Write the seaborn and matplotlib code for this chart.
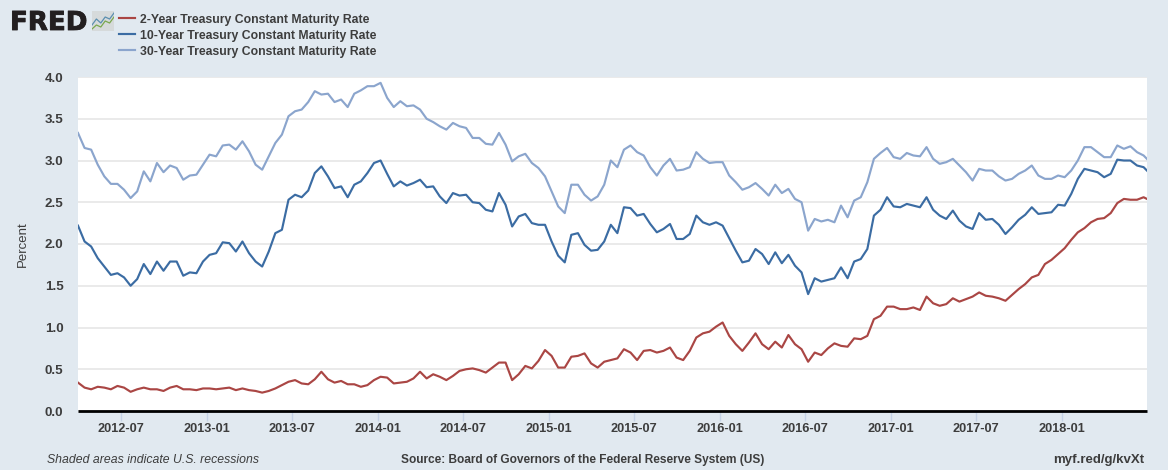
"""FRED style chart of treasury constant maturity rates"""

import matplotlib
matplotlib.use('Agg')
import matplotlib.pyplot as plt
import matplotlib.dates as mdates
import matplotlib.patheffects as pe
import seaborn as sns
import pandas as pd
import numpy as np


# values, one point about every two weeks
RATE_2Y = [0.34, 0.28, 0.26, 0.29, 0.28, 0.26, 0.30, 0.28, 0.23, 0.26, 0.28, 0.26, 0.26, 0.24, 0.28, 0.30,
           0.26, 0.26, 0.25, 0.27, 0.27, 0.26, 0.27, 0.28, 0.25, 0.27, 0.25, 0.24, 0.22, 0.24, 0.27, 0.31,
           0.35, 0.37, 0.33, 0.32, 0.38, 0.47, 0.38, 0.34, 0.36, 0.32, 0.32, 0.29, 0.31, 0.37, 0.41, 0.40,
           0.33, 0.34, 0.35, 0.39, 0.47, 0.39, 0.44, 0.41, 0.37, 0.42, 0.48, 0.50, 0.51, 0.49, 0.46, 0.52,
           0.58, 0.58, 0.37, 0.44, 0.54, 0.51, 0.60, 0.73, 0.66, 0.52, 0.52, 0.65, 0.66, 0.69, 0.57, 0.52,
           0.59, 0.61, 0.63, 0.74, 0.70, 0.61, 0.72, 0.73, 0.70, 0.72, 0.76, 0.64, 0.61, 0.72, 0.88, 0.93,
           0.95, 1.01, 1.06, 0.90, 0.80, 0.72, 0.82, 0.93, 0.80, 0.74, 0.83, 0.76, 0.91, 0.80, 0.74, 0.59,
           0.70, 0.67, 0.75, 0.81, 0.78, 0.77, 0.87, 0.86, 0.90, 1.10, 1.14, 1.25, 1.25, 1.22, 1.22, 1.24,
           1.21, 1.37, 1.29, 1.26, 1.28, 1.35, 1.31, 1.34, 1.37, 1.42, 1.38, 1.37, 1.35, 1.32, 1.39, 1.46,
           1.52, 1.60, 1.63, 1.76, 1.81, 1.88, 1.95, 2.05, 2.14, 2.19, 2.26, 2.30, 2.31, 2.37, 2.49, 2.54,
           2.53, 2.53, 2.56, 2.52]
RATE_10Y = [2.22, 2.03, 1.97, 1.83, 1.73, 1.63, 1.65, 1.60, 1.50, 1.58, 1.76, 1.64, 1.79, 1.68, 1.79, 1.79,
            1.62, 1.66, 1.65, 1.79, 1.87, 1.89, 2.02, 2.01, 1.91, 2.03, 1.89, 1.79, 1.73, 1.91, 2.13, 2.17,
            2.53, 2.59, 2.56, 2.64, 2.85, 2.93, 2.81, 2.67, 2.69, 2.56, 2.71, 2.75, 2.85, 2.97, 3.00, 2.84,
            2.69, 2.75, 2.70, 2.73, 2.77, 2.68, 2.69, 2.57, 2.49, 2.61, 2.58, 2.59, 2.50, 2.49, 2.41, 2.39,
            2.61, 2.47, 2.21, 2.33, 2.36, 2.25, 2.23, 2.23, 2.03, 1.86, 1.78, 2.11, 2.13, 1.99, 1.92, 1.93,
            2.03, 2.23, 2.13, 2.44, 2.43, 2.34, 2.36, 2.24, 2.14, 2.18, 2.24, 2.06, 2.06, 2.12, 2.34, 2.26,
            2.23, 2.26, 2.22, 2.07, 1.92, 1.78, 1.80, 1.94, 1.88, 1.76, 1.90, 1.77, 1.87, 1.74, 1.66, 1.40,
            1.59, 1.55, 1.57, 1.59, 1.72, 1.59, 1.79, 1.82, 1.94, 2.34, 2.41, 2.56, 2.45, 2.44, 2.48, 2.46,
            2.44, 2.56, 2.41, 2.34, 2.30, 2.40, 2.28, 2.21, 2.18, 2.37, 2.29, 2.30, 2.23, 2.12, 2.20, 2.29,
            2.35, 2.44, 2.36, 2.37, 2.38, 2.47, 2.46, 2.60, 2.78, 2.90, 2.88, 2.86, 2.80, 2.84, 3.01, 3.00,
            3.00, 2.94, 2.92, 2.84]
RATE_30Y = [3.33, 3.15, 3.13, 2.95, 2.81, 2.72, 2.72, 2.65, 2.55, 2.63, 2.87, 2.75, 2.97, 2.86, 2.94, 2.91,
            2.77, 2.82, 2.83, 2.95, 3.07, 3.05, 3.18, 3.19, 3.13, 3.23, 3.11, 2.95, 2.89, 3.05, 3.21, 3.31,
            3.53, 3.59, 3.61, 3.70, 3.83, 3.79, 3.80, 3.70, 3.73, 3.64, 3.80, 3.84, 3.89, 3.89, 3.93, 3.75,
            3.64, 3.71, 3.65, 3.66, 3.61, 3.50, 3.46, 3.41, 3.37, 3.45, 3.41, 3.39, 3.27, 3.27, 3.20, 3.19,
            3.33, 3.19, 2.99, 3.05, 3.08, 2.97, 2.91, 2.81, 2.63, 2.45, 2.37, 2.71, 2.71, 2.59, 2.52, 2.57,
            2.71, 3.00, 2.92, 3.13, 3.18, 3.10, 3.06, 2.92, 2.82, 2.94, 3.02, 2.88, 2.89, 2.92, 3.10, 3.02,
            2.97, 2.98, 2.98, 2.82, 2.74, 2.65, 2.68, 2.73, 2.66, 2.58, 2.71, 2.61, 2.66, 2.54, 2.50, 2.16,
            2.30, 2.27, 2.29, 2.26, 2.46, 2.32, 2.52, 2.56, 2.74, 3.02, 3.09, 3.15, 3.04, 3.02, 3.09, 3.06,
            3.05, 3.16, 3.02, 2.96, 2.98, 3.02, 2.94, 2.86, 2.76, 2.90, 2.88, 2.88, 2.81, 2.76, 2.78, 2.84,
            2.88, 2.94, 2.82, 2.78, 2.78, 2.82, 2.80, 2.88, 3.00, 3.16, 3.16, 3.10, 3.04, 3.04, 3.18, 3.14,
            3.17, 3.10, 3.06, 2.98]

SERIES_NAMES = ['2-Year Treasury Constant Maturity Rate',
                '10-Year Treasury Constant Maturity Rate',
                '30-Year Treasury Constant Maturity Rate']
SERIES_COLORS = ['#aa4644', '#3b6ca3', '#8ba5cd']
X_TICKS = ['2012-07', '2013-01', '2013-07', '2014-01', '2014-07', '2015-01', '2015-07',
           '2016-01', '2016-07', '2017-01', '2017-07', '2018-01']
Y_TICKS = [0.0, 0.5, 1.0, 1.5, 2.0, 2.5, 3.0, 3.5, 4.0]

BG = '#e1e9f0'
TEXT = '#3d3d3d'
W, H = 1168, 470

plt.rcParams['font.family'] = ['Liberation Sans', 'DejaVu Sans']

# long format, sns wants it that way
dates = pd.date_range('2012-04-01', periods=len(RATE_2Y), freq='337h')
df = pd.DataFrame({
    'date': np.tile(dates, 3),
    'rate': RATE_2Y + RATE_10Y + RATE_30Y,
    'series': np.repeat(SERIES_NAMES, len(RATE_2Y)),
})

fig = plt.figure(figsize=(W / 100, H / 100), dpi=100, facecolor=BG)
ax = fig.add_axes([78 / W, 1 - 411 / H, (1147 - 78) / W, (411 - 77) / H])
ax.set_facecolor('white')

sns.lineplot(data=df, x='date', y='rate', hue='series', hue_order=SERIES_NAMES,
             palette=SERIES_COLORS, linewidth=1.55, errorbar=None, ax=ax, zorder=3)

ax.set_xlim(pd.Timestamp('2012-04-01'), pd.Timestamp('2018-07-01'))
ax.set_ylim(0, 4)
ax.set_xlabel('')
ax.set_ylabel('')
fig.text(22.5 / W, 1 - 244 / H, 'Percent', fontsize=9.5, color=TEXT, rotation=90, ha='center', va='center')

# grid and axes
ax.set_yticks(Y_TICKS)
ax.set_yticklabels(['%.1f' % v for v in Y_TICKS], fontsize=9.6, fontweight='bold', color=TEXT)
ax.set_xticks([pd.Timestamp(t + '-01') for t in X_TICKS])
ax.xaxis.set_major_formatter(mdates.DateFormatter('%Y-%m'))
ax.tick_params(axis='y', length=0, pad=10.5)
ax.tick_params(axis='x', length=7, width=1, color='#c5d3e6', pad=2, labelcolor=TEXT)
for lab in ax.get_xticklabels():
    lab.set_fontweight('bold')
    lab.set_fontsize(9.2)
ax.grid(axis='y', color='#e6e6e6', linewidth=1.2)
ax.set_axisbelow(True)
for side in ['top', 'left', 'right']:
    ax.spines[side].set_visible(False)
ax.spines['bottom'].set_color('black')
ax.spines['bottom'].set_linewidth(2)
ax.spines['bottom'].set_capstyle('butt')
ax.spines['bottom'].set_zorder(5)

# legend at the top, next to the logo
handles, labels = ax.get_legend_handles_labels()
ax.get_legend().remove()
fig.legend(handles, labels, loc='upper left', bbox_to_anchor=(119 / W, 1 - 13.5 / H), frameon=False,
           borderpad=0, borderaxespad=0, handlelength=1.3, handletextpad=0.42, labelspacing=0.33,
           prop={'size': 8.8, 'weight': 'bold'}, labelcolor=TEXT)

# logo
logo = fig.text(10 / W, 1 - 30 / H, 'FRED', fontsize=18.8, fontweight='bold', family='DejaVu Sans',
                color='#231f20', va='baseline', ha='left')
logo.set_path_effects([pe.withStroke(linewidth=0.6, foreground='#231f20')])
icon = fig.add_axes([92 / W, 1 - 31 / H, 22 / W, 20 / H])
icon.set_facecolor('#d6dadb')
icon.plot([0, 2, 4, 6, 8, 10], [3, 6, 4, 7, 6, 9], color='#5b8fb0', linewidth=0.9)
icon.plot([0, 2, 4, 6, 8, 10], [1, 3, 2, 5, 4, 7], color='#7aa84f', linewidth=0.9)
icon.set_xlim(0, 10)
icon.set_ylim(0, 10)
icon.set_xticks([])
icon.set_yticks([])
for side in icon.spines:
    icon.spines[side].set_visible(False)

# footer
fig.text(47 / W, 1 - 463 / H, 'Shaded areas indicate U.S. recessions', fontsize=8.8, style='italic', color=TEXT)
fig.text(583 / W, 1 - 463 / H, 'Source: Board of Governors of the Federal Reserve System (US)',
         fontsize=8.6, fontweight='bold', color=TEXT, ha='center')
fig.text(1144 / W, 1 - 463 / H, 'myf.red/g/kvXt', fontsize=9.5, fontweight='bold', color=TEXT, ha='right')

plt.savefig('out.png', dpi=100, facecolor=BG)
